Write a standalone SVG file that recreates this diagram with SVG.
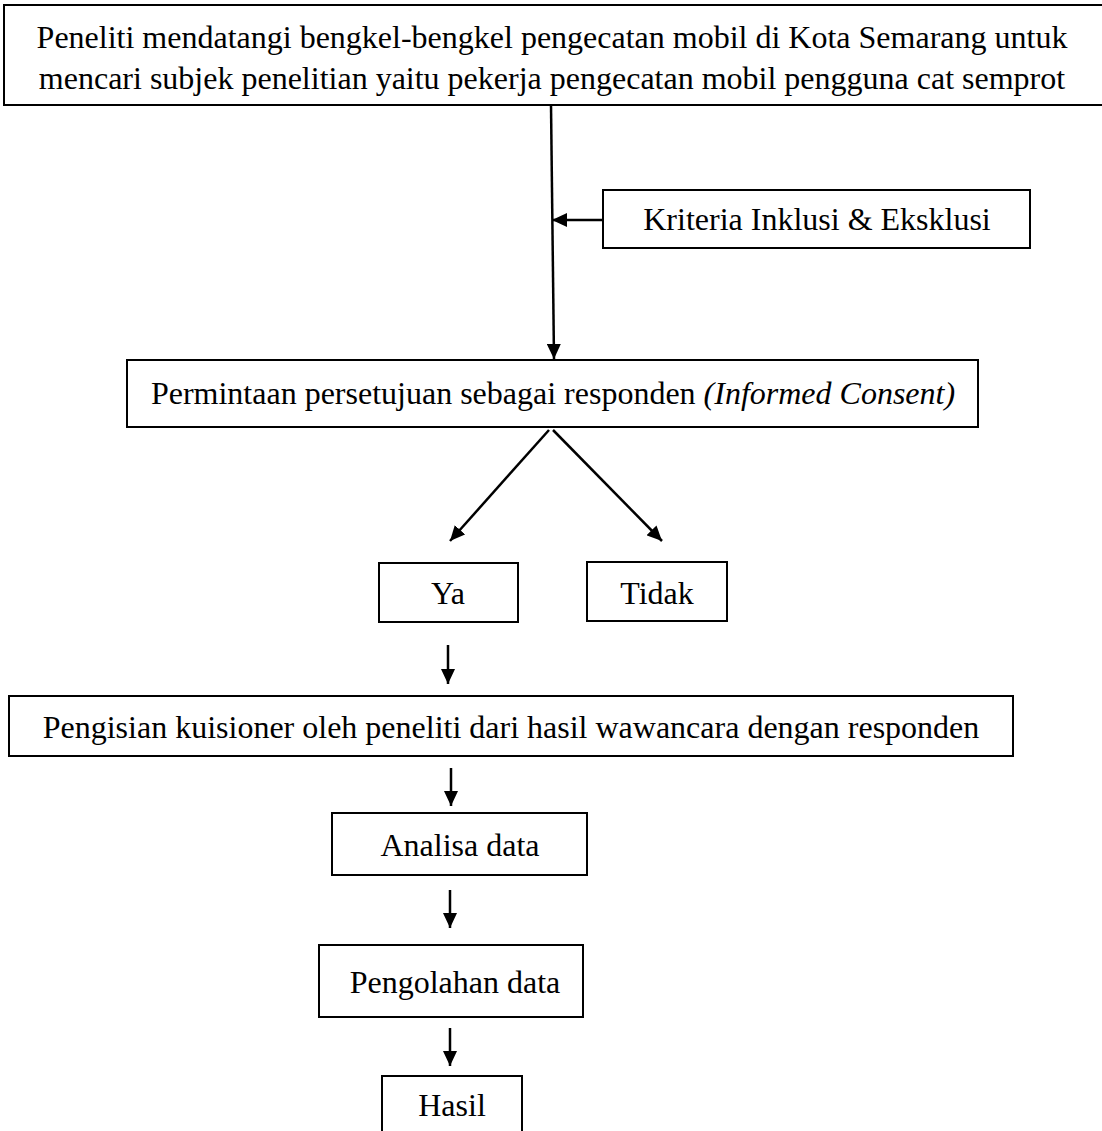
<svg xmlns="http://www.w3.org/2000/svg" width="1102" height="1131" viewBox="0 0 1102 1131">
<style>
  .box { fill: #ffffff; stroke: #000000; stroke-width: 2; }
  .t { font-family: "Liberation Serif", "Times New Roman", serif; font-size: 32px; fill: #000000; text-anchor: middle; }
  .c { stroke: #000000; stroke-width: 2.5; fill: none; }
</style>
<defs>
  <marker id="ah" markerUnits="userSpaceOnUse" markerWidth="15" markerHeight="14" refX="15" refY="7" orient="auto">
    <path d="M0,0 L15,7 L0,14 Z" fill="#000000"/>
  </marker>
</defs>
<rect width="1102" height="1131" fill="#ffffff"/>

<g id="n_start">
  <rect class="box" x="4" y="5" width="1110" height="100"/>
  <text class="t" x="552" y="48">Peneliti mendatangi bengkel-bengkel pengecatan mobil di Kota Semarang untuk</text>
  <text class="t" x="552" y="89">mencari subjek penelitian yaitu pekerja pengecatan mobil pengguna cat semprot</text>
</g>

<g id="n_kriteria">
  <rect class="box" x="603" y="190" width="427" height="58"/>
  <text class="t" x="817" y="230">Kriteria Inklusi &amp; Eksklusi</text>
</g>

<g id="n_consent">
  <rect class="box" x="127" y="360" width="851" height="67"/>
  <text class="t" x="553" y="404">Permintaan persetujuan sebagai responden <tspan font-style="italic">(Informed Consent)</tspan></text>
</g>

<g id="n_ya">
  <rect class="box" x="379" y="563" width="139" height="59"/>
  <text class="t" x="448" y="604">Ya</text>
</g>

<g id="n_tidak">
  <rect class="box" x="587" y="562" width="140" height="59"/>
  <text class="t" x="657" y="604">Tidak</text>
</g>

<g id="n_kuisioner">
  <rect class="box" x="9" y="696" width="1004" height="60"/>
  <text class="t" x="511" y="738">Pengisian kuisioner oleh peneliti dari hasil wawancara dengan responden</text>
</g>

<g id="n_analisa">
  <rect class="box" x="332" y="813" width="255" height="62"/>
  <text class="t" x="460" y="856">Analisa data</text>
</g>

<g id="n_pengolahan">
  <rect class="box" x="319" y="945" width="264" height="72"/>
  <text class="t" x="455" y="993">Pengolahan data</text>
</g>

<g id="n_hasil">
  <rect class="box" x="382" y="1076" width="140" height="70"/>
  <text class="t" x="452" y="1116">Hasil</text>
</g>

<g id="connectors">
  <line class="c" x1="551" y1="105" x2="554" y2="359" marker-end="url(#ah)"/>
  <line class="c" x1="603" y1="220" x2="552" y2="220" marker-end="url(#ah)"/>
  <line class="c" x1="549" y1="430" x2="450" y2="541" marker-end="url(#ah)"/>
  <line class="c" x1="553" y1="430" x2="662" y2="541" marker-end="url(#ah)"/>
  <line class="c" x1="448" y1="645" x2="448" y2="684" marker-end="url(#ah)"/>
  <line class="c" x1="451" y1="768" x2="451" y2="806" marker-end="url(#ah)"/>
  <line class="c" x1="450" y1="890" x2="450" y2="928" marker-end="url(#ah)"/>
  <line class="c" x1="450" y1="1028" x2="450" y2="1066" marker-end="url(#ah)"/>
</g>
</svg>
